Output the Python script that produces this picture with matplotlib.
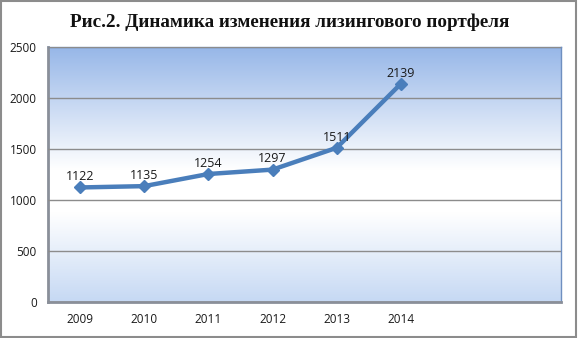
import numpy as np
import matplotlib.pyplot as plt
from matplotlib.colors import LinearSegmentedColormap
from matplotlib.patches import Rectangle

years = ["2009", "2010", "2011", "2012", "2013", "2014"]
portfolio = [1122, 1135, 1254, 1297, 1511, 2139]
y_ticks = [0, 500, 1000, 1500, 2000, 2500]
title = "Рис.2. Динамика изменения лизингового портфеля"

fig = plt.figure(figsize=(5.78, 3.38), dpi=100)
ax = fig.add_axes([0.083, 0.107, 0.888, 0.754])

# gradient fill of the plot area (light blue -> white -> blue)
cmap = LinearSegmentedColormap.from_list(
    "bg", [(0.0, "#c6d9f4"), (0.35, "#ffffff"), (0.52, "#ffffff"), (1.0, "#97b7e8")])
grad = np.linspace(0, 1, 256).reshape(-1, 1)
ax.imshow(grad, cmap=cmap, aspect="auto", origin="lower",
          extent=[-0.5, 7.5, 0, 2500], zorder=0)

x = np.arange(len(years))
ax.plot(x, portfolio, color="#4a7ebb", lw=3.2, marker="D", ms=6.5,
        markeredgecolor="#4a7ebb", zorder=3)
for xi, v in zip(x, portfolio):
    ax.annotate(str(v), (xi, v), xytext=(0, 3), textcoords="offset points",
                ha="center", va="bottom", fontsize=9, color="#1a1a1a",
                family="Open Sans", zorder=4)

ax.set_xlim(-0.5, 7.5)
ax.set_ylim(0, 2500)
ax.set_yticks(y_ticks)
ax.set_xticks(x)
ax.set_xticklabels(years)
ax.tick_params(length=0, labelsize=8.5, colors="#1a1a1a", pad=8)
for lbl in ax.get_xticklabels() + ax.get_yticklabels():
    lbl.set_family("Open Sans")
ax.yaxis.grid(True, color="#8c8c8c", lw=1)
ax.set_axisbelow(False)
for g in ax.get_ygridlines():
    g.set_zorder(1)

for side in ["left", "bottom"]:
    ax.spines[side].set_color("#8a8f99")
    ax.spines[side].set_linewidth(2)
for side in ["top", "right"]:
    ax.spines[side].set_color("#6f8fc0")
    ax.spines[side].set_linewidth(1)

fig.text(0.502, 0.935, title, ha="center", va="center", fontsize=13.8,
         fontweight="bold", family="Liberation Serif", color="#111111")

fig.patches.append(Rectangle((0.002, 0.003), 0.995, 0.994, transform=fig.transFigure,
                             fill=False, edgecolor="#8c8c8c", lw=1.5))

fig.savefig("out.png", dpi=100)
